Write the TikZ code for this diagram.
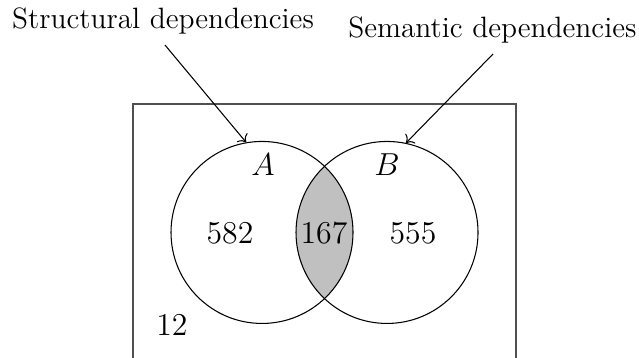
\documentclass[tikz,border=0pt]{standalone}
\usepackage{tikz}
\usetikzlibrary{arrows.meta, positioning, calc}
\definecolor{vennshade}{HTML}{C0C0C0}
\definecolor{vennframe}{HTML}{505050}

\begin{document}
\begin{tikzpicture}[
  x=1cm, y=1cm,
  setcirc/.style={draw, circle, minimum size=2.414cm, inner sep=0pt},
  setname/.style={font=\large\itshape},
  count/.style={font=\large, inner sep=1pt},
  lbl/.style={font=\fontsize{11.1}{13}\selectfont, inner sep=1pt, anchor=base},
  arr/.style={->, black}
]
\useasboundingbox (0,0) rectangle (8.475,4.748);

% shaded intersection
\begin{scope}
  \clip (3.475,1.665) circle (1.207);
  \fill[vennshade] (5.133,1.665) circle (1.207);
\end{scope}

% universe frame, open at the bottom
\draw[vennframe] (1.764,0) |- (6.844,3.369) -- (6.844,0);

\node[setcirc] (A) at (3.475,1.665) {};
\node[setcirc] (B) at (5.133,1.665) {};

\node[setname] (nameA) at (3.488,2.560) {$A$};
\node[setname] (nameB) at (5.133,2.560) {$B$};

\node[count] (onlyA) at (3.050,1.658) {582};
\node[count] (both) at (4.297,1.658) {167};
\node[count] (onlyB) at (5.478,1.658) {555};
\node[count] (none) at (2.281,0.438) {12};

\node[lbl] (struct) at (2.162,4.364) {Structural dependencies};
\node[lbl] (sem) at (6.530,4.244) {Semantic dependencies};

\coordinate (structfoot) at (2.188,4.151);
\coordinate (semfoot) at (6.539,4.032);

\draw[arr] (structfoot) -- (A.100);
\draw[arr] (semfoot) -- (B.78);
\end{tikzpicture}
\end{document}
